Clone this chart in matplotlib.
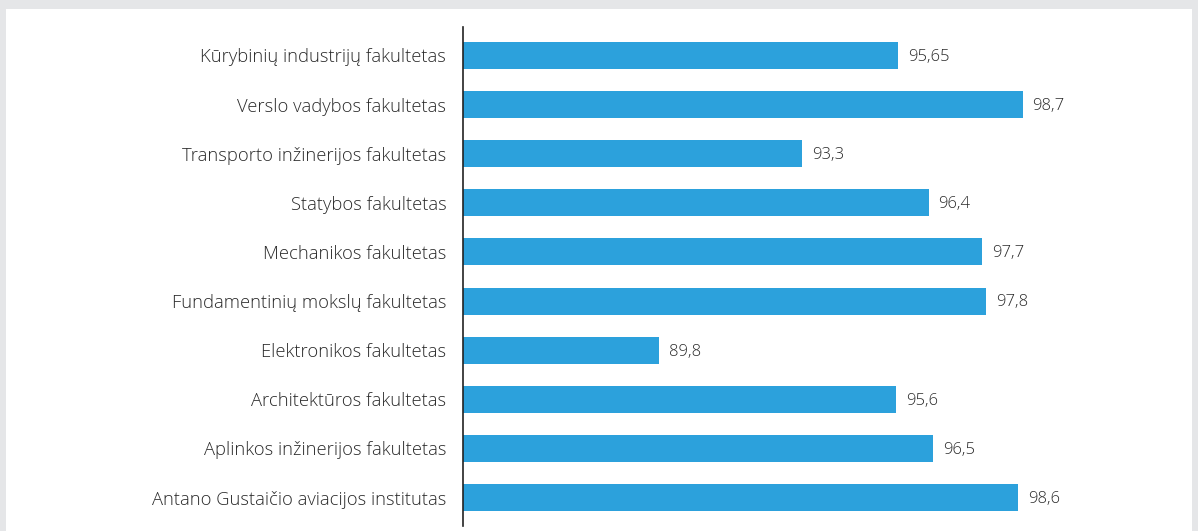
import matplotlib
matplotlib.use("Agg")
import matplotlib.pyplot as plt
from matplotlib.patches import Rectangle
from matplotlib import font_manager

categories = [
    "Kūrybinių industrijų fakultetas",
    "Verslo vadybos fakultetas",
    "Transporto inžinerijos fakultetas",
    "Statybos fakultetas",
    "Mechanikos fakultetas",
    "Fundamentinių mokslų fakultetas",
    "Elektronikos fakultetas",
    "Architektūros fakultetas",
    "Aplinkos inžinerijos fakultetas",
    "Antano Gustaičio aviacijos institutas",
]
values = [95.65, 98.7, 93.3, 96.4, 97.7, 97.8, 89.8, 95.6, 96.5, 98.6]
value_labels = ["95,65", "98,7", "93,3", "96,4", "97,7", "97,8", "89,8", "95,6", "96,5", "98,6"]

names = {f.name for f in font_manager.fontManager.ttflist}
fam = "Open Sans" if "Open Sans" in names else "DejaVu Sans"
plt.rcParams['font.family'] = [fam, 'DejaVu Sans']

W, H = 1198, 531
fig = plt.figure(figsize=(W/100, H/100), dpi=100, facecolor="#e5e6e8")
fig.patches.append(Rectangle((6/W, 0), (1192-6)/W, 1 - 9/H, transform=fig.transFigure,
                             facecolor="white", edgecolor="none", zorder=-10))

ax = fig.add_axes([463/W, 1 - 526/H, (1190-463)/W, (526-27)/H])
ax.set_facecolor("none")
y = list(range(len(categories)))
ax.barh(y, [v - 85 for v in values], left=85, height=0.55, color="#2ca1dc", zorder=2)
ax.set_xlim(85, 102.8)
ax.set_ylim(len(categories) - 0.42, -0.58)
ax.set_yticks(y)
ax.set_yticklabels(categories, fontsize=13.2, color="#2a2a2a", fontweight="light")
ax.tick_params(axis="y", length=0, pad=12)
for t in ax.get_yticklabels():
    t.set_y(t.get_position()[1])
ax.set_xticks([])
for s in ["top", "right", "bottom"]:
    ax.spines[s].set_visible(False)
ax.spines["left"].set_color("#222222")
ax.spines["left"].set_linewidth(1.2)

for yi, v, lab in zip(y, values, value_labels):
    ax.annotate(lab, (v, yi), xytext=(7.2, -1), textcoords="offset points",
                va="center", ha="left", fontsize=12, color="#2a2a2a", fontweight="light")

fig.savefig("out.png", dpi=100, facecolor=fig.get_facecolor())
